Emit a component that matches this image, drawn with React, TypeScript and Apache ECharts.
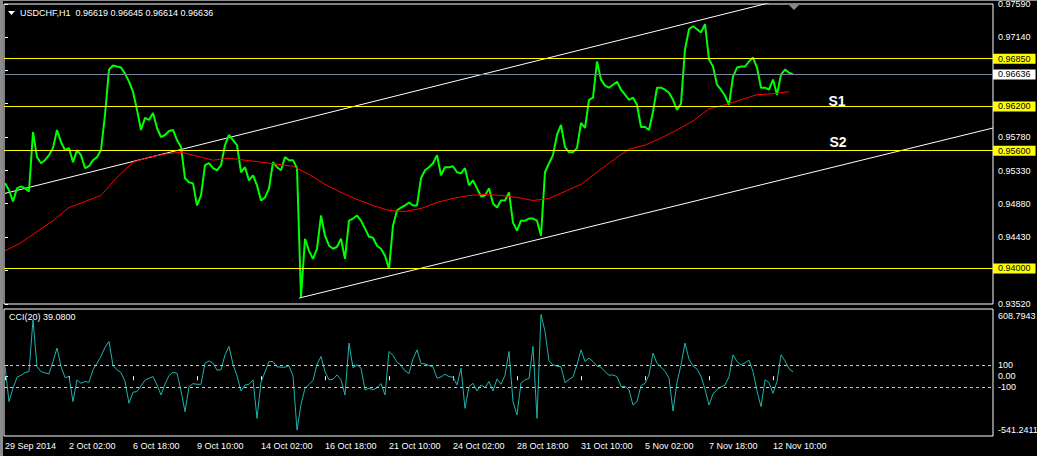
import React, { useEffect, useRef } from "react";
import * as echarts from "echarts";

// ---- data ----
const symbolTitle = "USDCHF,H1";
const ohlc = [0.96619, 0.96645, 0.96614, 0.96636];
const BAR_STEP = 4; // hourly bars between sampled closes
const MA_STEP = 16;
const CCI_STEP = 4;
const BARS_PER_LABEL = 64;

const closes = [
  0.95156, 0.95061, 0.9491, 0.95088, 0.95115, 0.95088, 0.95047, 0.95854, 0.95512, 0.9543,
  0.95471, 0.95539, 0.95635, 0.95881, 0.95717, 0.95608, 0.95635, 0.95444, 0.95608, 0.95539,
  0.95362, 0.95389, 0.95471, 0.95512, 0.95608, 0.96086, 0.96701, 0.96756, 0.96742, 0.96729,
  0.96647, 0.96537, 0.96401, 0.96154, 0.95881, 0.96045, 0.96018, 0.96113, 0.95908, 0.95785,
  0.95813, 0.95867, 0.95881, 0.95744, 0.95649, 0.95225, 0.9517, 0.95156, 0.94856, 0.94992,
  0.95403, 0.9543, 0.95362, 0.95334, 0.95403, 0.95676, 0.95813, 0.95744, 0.95676, 0.95307,
  0.95375, 0.95197, 0.95266, 0.95129, 0.94924, 0.94965, 0.95088, 0.95444, 0.95375, 0.95334,
  0.95512, 0.95471, 0.95471, 0.95362, 0.9361, 0.94404, 0.9424, 0.94131, 0.94268, 0.94719,
  0.94445, 0.94309, 0.94268, 0.94295, 0.94404, 0.94131, 0.9465, 0.94678, 0.94719, 0.9465,
  0.94541, 0.94432, 0.94418, 0.94309, 0.94268, 0.94172, 0.93994, 0.94582, 0.94787, 0.94828,
  0.94856, 0.94897, 0.94856, 0.94856, 0.95225, 0.95334, 0.95375, 0.9543, 0.95539, 0.95266,
  0.95375, 0.95375, 0.95389, 0.95307, 0.95293, 0.95362, 0.95129, 0.95197, 0.95088, 0.94979,
  0.94992, 0.95088, 0.94883, 0.94828, 0.94924, 0.94924, 0.95033, 0.94623, 0.94514, 0.9465,
  0.9465, 0.94678, 0.94678, 0.9465, 0.94445, 0.95307, 0.9543, 0.95539, 0.95813, 0.95949,
  0.95649, 0.9558, 0.9558, 0.95635, 0.95977, 0.95908, 0.96291, 0.96319, 0.96811, 0.96565,
  0.96483, 0.96455, 0.96496, 0.96537, 0.96428, 0.9636, 0.96291, 0.96319, 0.96223, 0.95922,
  0.95922, 0.95881, 0.96127, 0.96455, 0.96455, 0.96428, 0.96387, 0.96291, 0.96154, 0.96237,
  0.96975, 0.97248, 0.97289, 0.97248, 0.97207, 0.97317, 0.96838, 0.96742, 0.96496, 0.96428,
  0.96346, 0.96223, 0.96606, 0.96729, 0.96742, 0.96742, 0.96811, 0.96865, 0.96729, 0.96455,
  0.96455, 0.96428, 0.96565, 0.9636, 0.96633, 0.96701, 0.9666, 0.96636,
];

const movingAverage = [
  0.9424, 0.9435, 0.945, 0.9465, 0.94828, 0.9491, 0.94992, 0.95238, 0.95444, 0.95512,
  0.95553, 0.9558, 0.95526, 0.95471, 0.95498, 0.95471, 0.95444, 0.95416, 0.95389, 0.95279,
  0.95143, 0.95033, 0.94938, 0.94856, 0.94787, 0.94774, 0.94815, 0.94897, 0.94951, 0.94992,
  0.95006, 0.94992, 0.94965, 0.94924, 0.94951, 0.95047, 0.95143, 0.95307, 0.95471, 0.95621,
  0.95676, 0.95772, 0.95881, 0.96004, 0.96168, 0.96223, 0.96291, 0.9636, 0.96373, 0.96401,
];

const cciValues = [
  88, -230, -109, -9, 9, 33, 42, 512, 88, 42,
  30, 21, 133, 255, 88, -12, -3, -230, -33, -64,
  -48, -55, 58, 118, 179, 261, 315, 97, 58, 33,
  -48, -245, -145, -139, -88, -36, -18, -3, -79, -170,
  -70, 6, 36, 27, -133, -321, -94, -67, -73, -73,
  118, 139, 118, 55, 58, 194, 270, 109, 3, -133,
  -79, -73, -33, -382, -55, 39, 133, 133, 85, 82,
  82, 94, 3, -488, -255, -109, -76, -39, 109, 179,
  42, -33, -27, 12, -33, -170, 300, 76, 103, 73,
  -124, -109, -124, -103, -67, -170, 224, 188, 127, 100,
  48, 24, 158, 239, 115, 112, 97, 85, -18, -6,
  18, -3, -9, -79, 73, -291, -94, -64, -133, -79,
  -103, -48, -133, -24, -73, 9, 224, -230, -351, -61,
  -33, -21, 270, -382, 558, 406, 139, 103, 91, 85,
  -58, -30, -6, 103, 239, 133, 164, 133, 91, 82,
  42, 9, 12, -3, -94, -91, -124, -261, -230, -85,
  -64, 12, 209, 115, 82, 45, -18, -315, -55, 103,
  300, 155, 94, 64, 0, -118, -261, -161, -121, -97,
  -79, -6, 194, 133, 103, 121, 145, 42, -133, -276,
  -33, -58, -155, -48, 194, 139, 67, 39.08,
];
const cciLast = 39.08;

const dateLabels = [
  "29 Sep 2014", "2 Oct 02:00", "6 Oct 18:00", "9 Oct 10:00", "14 Oct 02:00",
  "16 Oct 18:00", "21 Oct 10:00", "24 Oct 02:00", "28 Oct 18:00", "31 Oct 10:00",
  "5 Nov 02:00", "7 Nov 18:00", "12 Nov 10:00",
];
// all scale ticks; the ones under the highlighted level boxes carry no visible label
const priceTicks = [0.9759, 0.9714, 0.9669, 0.9624, 0.9578, 0.9533, 0.9488, 0.9443, 0.9398, 0.9352];
const priceTickLabels = [0.9759, 0.9714, 0.9578, 0.9533, 0.9488, 0.9443, 0.9352];
const levelLines = [0.9685, 0.962, 0.956, 0.94];
const lastPrice = 0.96636;
const upperChannel = [[0, 0.9502], [765, 0.9761]];
const lowerChannel = [[294, 0.93598], [988, 0.95908]];
const supportLabels = [
  { name: "S1", bar: 832, price: 0.96277 },
  { name: "S2", bar: 833, price: 0.95717 },
];
const cciLevels = [100, -100];
const cciTicks = [608.7943, 100, 0, -100, -541.2411];
const PRICE_MIN = 0.935179;
const PRICE_MAX = 0.975918;
const CCI_MIN = -541.2411;
const CCI_MAX = 608.7943;
const BAR_MIN = -1;
const BAR_MAX = 988;

const FONT = "Liberation Sans, Arial, sans-serif";

export default function App() {
  const ref = useRef<HTMLDivElement>(null);
  useEffect(() => {
    if (!ref.current) return;
    const chart = echarts.init(ref.current, null, { renderer: "svg" });
    const priceData = closes.map((v, i) => [i * BAR_STEP, v]);
    const maData = movingAverage.map((v, i) => [i * MA_STEP, v]);
    const cciData = cciValues.map((v, i) => [i * CCI_STEP, v]);
    const dateTickValues = dateLabels.map((_, k) => k * BARS_PER_LABEL);

    const levelLabel = (bg: string) => ({
      show: true, position: "end", distance: 0,
      formatter: (p: any) => Number(p.value).toFixed(5),
      color: "#000000", backgroundColor: bg, fontSize: 9, fontFamily: FONT,
      lineHeight: 10, padding: [0, 5, 0, 5],
    });

    const option: any = {
      animation: false,
      backgroundColor: "#000000",
      textStyle: { fontFamily: FONT },
      grid: [
        { left: 4, top: 4, width: 989, height: 300, show: true, borderColor: "#ffffff", borderWidth: 1, backgroundColor: "transparent", outerBoundsMode: "none" },
        { left: 4, top: 309, width: 989, height: 127, show: true, borderColor: "#ffffff", borderWidth: 1, backgroundColor: "transparent", outerBoundsMode: "none" },
      ],
      xAxis: [
        { type: "value", gridIndex: 0, min: BAR_MIN, max: BAR_MAX, show: false },
        {
          type: "value", gridIndex: 1, min: BAR_MIN, max: BAR_MAX,
          axisLine: { show: false },
          splitLine: { show: false },
          axisTick: { show: true, customValues: dateTickValues, length: 4, lineStyle: { color: "#ffffff" } },
          axisLabel: {
            customValues: dateTickValues,
            formatter: (v: number) => dateLabels[Math.round(v / BARS_PER_LABEL)] ?? "",
            align: "left", color: "#ffffff", fontSize: 9, fontFamily: FONT, margin: 5,
          },
        },
      ],
      yAxis: [
        {
          type: "value", gridIndex: 0, position: "right", min: PRICE_MIN, max: PRICE_MAX,
          axisLine: { show: false }, splitLine: { show: false },
          axisTick: { show: true, customValues: priceTicks, length: 3, lineStyle: { color: "#ffffff" } },
          axisLabel: {
            customValues: priceTickLabels,
            formatter: (v: number) => v.toFixed(5),
            color: "#ffffff", fontSize: 9, fontFamily: FONT, margin: 5,
          },
        },
        {
          type: "value", gridIndex: 1, position: "right", min: CCI_MIN, max: CCI_MAX,
          axisLine: { show: false }, splitLine: { show: false },
          axisTick: { show: true, customValues: [100, 0, -100], length: 3, lineStyle: { color: "#ffffff" } },
          axisLabel: {
            customValues: cciTicks,
            formatter: (v: number) => {
              if (v === CCI_MAX) return "{t|" + v.toFixed(4) + "}";
              if (v === CCI_MIN) return "{b|" + v.toFixed(4) + "}";
              if (v === 0) return "0.00";
              return String(v);
            },
            color: "#ffffff", fontSize: 9, fontFamily: FONT, margin: 5,
            rich: {
              t: { color: "#ffffff", fontSize: 9, fontFamily: FONT, padding: [14, 0, 0, 0] },
              b: { color: "#ffffff", fontSize: 9, fontFamily: FONT, padding: [0, 0, 12, 0] },
            },
          },
        },
      ],
      series: [
        {
          name: "levels", type: "line", xAxisIndex: 0, yAxisIndex: 0, data: [], z: 1,
          color: "#ffff00",
          markLine: {
            silent: true, symbol: ["none", "none"], animation: false, precision: 5,
            lineStyle: { color: "#ffff00", width: 1, type: "solid", opacity: 1 },
            label: levelLabel("#ffff00"),
            data: levelLines.map((v) => ({ yAxis: v, lineStyle: { color: "#ffff00", width: 1, type: "solid", opacity: 1 } })),
          },
        },
        {
          name: "last", type: "line", xAxisIndex: 0, yAxisIndex: 0, data: [], z: 1,
          color: "#778899",
          markLine: {
            silent: true, symbol: ["none", "none"], animation: false, precision: 5,
            lineStyle: { color: "#778899", width: 1, type: "solid" },
            label: levelLabel("#ffffff"),
            data: [{ yAxis: lastPrice, lineStyle: { color: "#778899", width: 1, type: "solid" } }],
          },
        },
        {
          name: "upper", type: "line", xAxisIndex: 0, yAxisIndex: 0, data: upperChannel,
          symbol: "none", clip: true, lineStyle: { color: "#ffffff", width: 1 }, z: 2,
        },
        {
          name: "lower", type: "line", xAxisIndex: 0, yAxisIndex: 0, data: lowerChannel,
          symbol: "none", clip: true, lineStyle: { color: "#ffffff", width: 1 }, z: 2,
        },
        {
          name: symbolTitle, type: "line", xAxisIndex: 0, yAxisIndex: 0, data: priceData,
          symbol: "none", clip: true, lineStyle: { color: "#00ff00", width: 2 }, z: 3,
        },
        {
          name: "MA", type: "line", xAxisIndex: 0, yAxisIndex: 0, data: maData,
          symbol: "none", clip: true, lineStyle: { color: "#ff0000", width: 1 }, z: 4,
        },
        {
          name: "supports", type: "line", xAxisIndex: 0, yAxisIndex: 0, data: [], z: 5,
          markPoint: {
            silent: true, symbol: "circle", symbolSize: 1, animation: false,
            itemStyle: { color: "rgba(0,0,0,0)" },
            label: { show: true, position: "inside", formatter: "{b}", color: "#ffffff", fontWeight: "bold", fontSize: 14, fontFamily: FONT },
            data: supportLabels.map((s) => ({ name: s.name, coord: [s.bar, s.price] })),
          },
        },
        {
          name: "CCI(20)", type: "line", xAxisIndex: 1, yAxisIndex: 1, data: cciData,
          symbol: "none", clip: true, lineStyle: { color: "#20b2aa", width: 1 }, z: 3,
          markLine: {
            silent: true, symbol: ["none", "none"], animation: false,
            lineStyle: { color: "#c8c8c8", width: 1, type: [3, 3] },
            label: { show: false },
            data: cciLevels.map((v) => ({ yAxis: v })),
          },
        },
      ],
      graphic: [
        { type: "rect", shape: { x: 0, y: 0, width: 3, height: 456 }, style: { fill: "#8c8c8c" }, silent: true },
        { type: "rect", shape: { x: 0, y: 0, width: 1037, height: 1 }, style: { fill: "#8c8c8c" }, silent: true },
        { type: "polygon", shape: { points: [[8, 11], [15, 11], [11.5, 15]] }, style: { fill: "#ffffff" }, silent: true },
        {
          type: "text", x: 20, y: 8, silent: true,
          style: { text: symbolTitle + "  " + ohlc.map((v) => v.toFixed(5)).join(" "), fill: "#ffffff", fontSize: 9, fontFamily: FONT },
        },
        {
          type: "text", x: 9, y: 312, silent: true,
          style: { text: "CCI(20) " + cciLast.toFixed(4), fill: "#ffffff", fontSize: 9, fontFamily: FONT },
        },
        { type: "polygon", shape: { points: [[789, 5], [799, 5], [794, 10]] }, style: { fill: "#7f8c99" }, silent: true },
      ],
    };
    chart.setOption(option);
    return () => chart.dispose();
  }, []);
  return (
    <div
      ref={ref}
      style={{ position: "absolute", left: 0, top: 0, width: 1037, height: 456, background: "#000" }}
    />
  );
}
